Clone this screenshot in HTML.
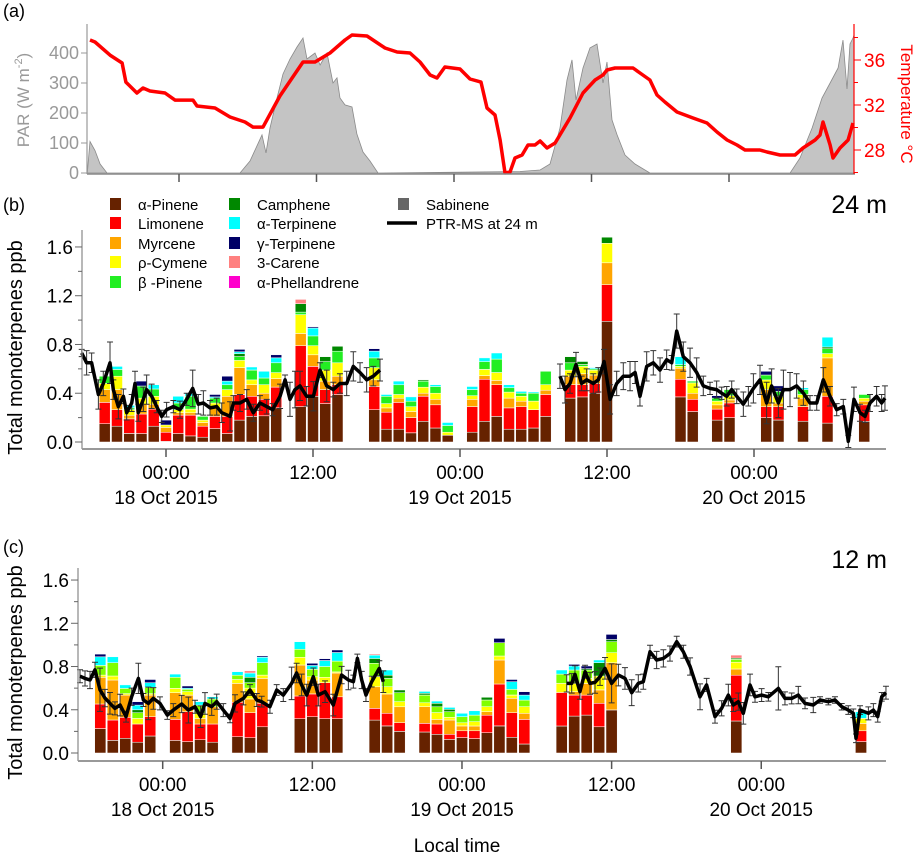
<!DOCTYPE html>
<html><head><meta charset="utf-8"><style>
html,body{margin:0;padding:0;background:#fff;}
svg{display:block;font-family:"Liberation Sans",Arial,sans-serif;}
</style></head><body>
<svg id="chart" width="917" height="855" viewBox="0 0 917 855">
<g id="gA"></g>
<g id="gB"></g>
<g id="gC"></g>
<g id="legend"></g>
<g id="labels"></g>
</svg>
<script>
// ---------- DATA ----------
const parHours=[-8,-7.77,-7.33,-6.89,-6.28,5.32,6.2,7.24,7.59,7.94,8.55,9.08,9.69,10.3,10.82,11.17,11.87,12.31,12.92,13.44,13.79,14.05,14.49,15.1,15.53,16.06,16.67,17.37,29.76,31.51,32.38,33.25,33.86,34.3,34.65,35.26,35.87,36.48,37.0,37.35,37.79,38.23,38.92,39.8,41.1,53.33,54.2,55.25,56.12,56.82,57.52,57.95,58.3,58.56,58.82,58.91];
const parValues=[0,105,75,30,0,0,40,127,67,150,250,330,380,420,450,380,400,360,400,300,317,250,227,220,130,70,40,0,5,10,30,150,310,377,243,350,417,430,300,370,177,127,60,30,0,0,50,150,250,300,350,443,280,430,450,460];
const tempHours=[-7.77,-7.33,-6.02,-4.97,-4.63,-3.67,-3.14,-2.53,-1.22,-0.35,1.22,1.57,3.14,4.45,5.76,6.46,7.33,8.81,10.82,11.87,13.18,14.49,15.1,16.41,17.98,19.03,20.16,21.03,21.91,22.52,23.21,24.52,25.4,26.36,26.88,27.58,28.02,28.45,28.89,29.32,29.94,30.46,31.07,31.51,32.12,32.82,34.12,35.26,36.31,37.0,37.35,38.05,39.1,39.62,40.23,41.1,41.72,42.41,43.46,44.86,46.08,46.95,47.83,48.7,49.4,50.7,51.32,52.45,53.33,53.76,54.46,55.51,55.94,56.2,56.82,57.08,57.69,58.39,58.82];
const tempValues=[37.78,37.6,36.44,35.73,34.04,33.07,33.51,33.24,33.07,32.44,32.44,31.91,31.73,30.93,30.49,30.04,30.04,32.8,35.82,35.82,36.62,37.78,38.22,38.13,37.07,36.71,36.62,35.82,34.67,34.4,35.38,35.2,34.31,34.04,31.73,31.11,28.89,25.96,26.04,27.29,27.56,28.44,28.44,28.8,28.18,28.62,30.84,33.07,34.22,34.67,35.11,35.29,35.29,35.29,34.84,34.22,32.89,32.27,31.38,30.84,30.4,29.6,28.89,28.44,28,28,27.82,27.56,27.56,27.56,28.18,28.89,29.33,30.49,28.44,27.29,28.18,28.89,30.4];

const species=["α-Pinene","Limonene","Myrcene","ρ-Cymene","β-Pinene","Camphene","α-Terpinene","γ-Terpinene","3-Carene"];
const bBarHours=[-5,-4,-3,-2,-1,0,1,2,3,4,5,6,7,8,9,11,12,13,14,17,18,19,20,21,22,23,25,26,27,28,29,30,31,33,34,35,36,42,43,45,46,49,50,52,54,57];
const bCumulative=[
[.15,.325,.43,.48,.54,.54,.54,.54,.54],[.13,.265,.43,.54,.595,.595,.62,.62,.62],[.07,.19,.22,.265,.28,.28,.30,.30,.30],[.07,.23,.31,.36,.46,.46,.46,.50,.50],[.13,.27,.31,.375,.435,.435,.47,.47,.47],[.005,.08,.12,.14,.14,.14,.14,.18,.18],[.07,.22,.24,.265,.32,.32,.375,.375,.375],[.05,.22,.24,.27,.375,.375,.40,.40,.40],[.04,.13,.16,.18,.21,.21,.21,.21,.21],[.11,.21,.28,.32,.36,.36,.37,.39,.39],[.07,.21,.375,.43,.47,.47,.50,.54,.54],[.18,.39,.61,.67,.70,.725,.74,.76,.76],[.21,.375,.47,.51,.59,.59,.615,.615,.615],[.215,.35,.40,.47,.525,.525,.58,.58,.58],[.28,.45,.52,.57,.65,.65,.69,.715,.715],[.29,.79,.89,1.045,1.065,1.135,1.135,1.135,1.17],[.375,.62,.715,.79,.87,.87,.935,.945,.945],[.315,.43,.50,.59,.66,.70,.70,.70,.70],[.39,.47,.54,.65,.745,.785,.785,.785,.785],[.265,.455,.51,.61,.69,.69,.745,.765,.765],[.105,.245,.28,.315,.375,.375,.39,.39,.39],[.105,.325,.36,.39,.47,.47,.50,.50,.50],[.075,.20,.25,.29,.335,.335,.37,.37,.37],[.17,.375,.40,.45,.50,.51,.51,.51,.51],[.115,.305,.35,.40,.455,.455,.47,.47,.47],[.055,.055,.055,.08,.135,.135,.16,.16,.16],[.08,.29,.35,.38,.43,.43,.455,.455,.455],[.17,.515,.545,.595,.66,.66,.69,.69,.69],[.21,.47,.505,.57,.68,.68,.73,.73,.73],[.105,.28,.36,.41,.445,.445,.47,.47,.47],[.105,.29,.335,.375,.40,.40,.415,.415,.415],[.115,.265,.265,.335,.40,.40,.41,.41,.41],[.21,.39,.425,.47,.58,.58,.58,.58,.58],[.36,.47,.54,.59,.65,.70,.70,.70,.70],[.37,.47,.56,.62,.635,.66,.66,.66,.66],[.40,.48,.55,.59,.60,.60,.61,.61,.61],[.99,1.29,1.47,1.63,1.63,1.68,1.68,1.68,1.68],[.37,.515,.605,.62,.635,.635,.70,.70,.70],[.25,.35,.40,.485,.50,.50,.50,.50,.50],[.18,.27,.305,.335,.36,.36,.36,.38,.38],[.20,.32,.345,.38,.43,.43,.43,.43,.43],[.20,.29,.43,.51,.55,.55,.55,.58,.58],[.18,.29,.32,.375,.415,.415,.415,.46,.46],[.17,.29,.36,.39,.43,.43,.445,.445,.445],[.155,.375,.69,.725,.765,.78,.86,.86,.86],[.17,.305,.335,.36,.39,.39,.39,.39,.39]];
const bLineHours=[-6.88,-6.48,-6.07,-5.52,-5.12,-4.57,-4.30,-3.89,-3.48,-3.21,-2.8,-2.53,-2.26,-1.85,-1.58,-1.17,-0.76,-0.35,0.05,0.6,1.14,1.69,2.18,2.64,3.05,3.59,4.14,4.55,5.23,5.5,6.04,6.59,7.13,7.67,8.22,8.71,9.31,9.72,10.12,10.53,10.94,11.48,12.03,12.57,13.12,13.66,14.2,14.75,15.29,15.84,16.38,16.92,17.47,null,32.16,32.57,32.98,33.47,33.93,34.34,34.88,35.29,35.76,36.25,36.79,37.33,37.88,38.29,38.69,39.24,39.78,40.33,40.87,41.28,41.69,42.23,42.78,43.32,43.86,44.41,44.95,45.36,45.77,46.18,46.59,47.13,47.54,47.95,48.49,49.03,49.44,49.99,50.4,50.94,51.48,52.03,52.57,53.12,53.66,54.2,54.75,55.29,55.7,56.16,56.65,57.06,57.47,58.01,58.42,58.69];
const bLineValues=[.73,.65,.65,.39,.48,.65,.43,.29,.375,.24,.32,.48,.24,.35,.43,.375,.29,.21,.265,.29,.265,.35,.44,.31,.32,.28,.29,.24,.21,.32,.32,.35,.24,.32,.29,.265,.375,.51,.35,.43,.46,.375,.375,.59,.46,.43,.48,.48,.62,.57,.51,.54,.59,null,.54,.43,.48,.635,.48,.51,.48,.51,.66,.35,.48,.54,.54,.57,.375,.62,.65,.59,.675,.65,.91,.70,.65,.57,.46,.44,.43,.40,.375,.43,.375,.31,.375,.44,.51,.32,.46,.32,.43,.43,.46,.40,.32,.32,.51,.375,.265,.29,.005,.35,.24,.21,.32,.375,.32,.36];
const bLineErrors=[.03,.1,.08,.12,.1,.17,.08,.1,.06,.06,.07,.1,.07,.1,.12,.1,.05,.05,.06,.05,.07,.05,.15,.08,.1,.06,.07,.08,.12,.06,.07,.08,.07,.06,.06,.05,.1,.04,.14,.15,.12,.08,.12,.06,.13,.06,.08,.1,.12,.08,.1,.08,.09,null,.1,.11,.08,.1,.06,.09,.08,.1,.1,.12,.1,.11,.12,.09,.08,.12,.1,.1,.08,.06,.14,.12,.12,.12,.08,.05,.07,.05,.08,.07,.06,.1,.08,.12,.12,.17,.14,.12,.16,.14,.1,.1,.06,.06,.1,.08,.05,.06,.05,.1,.07,.05,.07,.08,.07,.1];

const cBarHours=[-5,-4,-3,-2,-1,1,2,3,4,6,7,8,11,12,13,14,17,18,19,21,22,23,24,25,26,27,28,29,32,33,34,35,36,46,56];
const cCumulative=[
[.225,.453,.70,.72,.81,.81,.89,.915,.915],[.117,.305,.675,.712,.835,.835,.89,.89,.89],[.136,.33,.536,.55,.598,.598,.63,.63,.63],[.10,.268,.268,.32,.373,.40,.444,.475,.475],[.157,.336,.536,.55,.607,.607,.65,.68,.68],[.117,.311,.558,.598,.70,.70,.73,.73,.73],[.105,.382,.536,.567,.589,.589,.60,.62,.62],[.123,.268,.32,.367,.444,.444,.475,.475,.475],[.10,.268,.428,.428,.50,.50,.52,.52,.52],[.151,.469,.644,.68,.72,.72,.752,.752,.752],[.142,.373,.50,.60,.65,.70,.74,.74,.76],[.243,.46,.69,.72,.835,.835,.885,.897,.897],[.317,.527,.814,.885,.96,.96,1.03,1.03,1.03],[.336,.546,.675,.706,.774,.774,.81,.83,.83],[.317,.65,.65,.70,.80,.80,.855,.872,.872],[.317,.52,.74,.75,.85,.85,.93,.953,.953],[.305,.413,.613,.706,.83,.875,.906,.906,.916],[.25,.367,.546,.613,.69,.72,.768,.768,.768],[.20,.28,.428,.475,.558,.583,.583,.583,.583],[.194,.274,.428,.465,.536,.552,.57,.57,.57],[.173,.268,.311,.373,.428,.46,.48,.48,.48],[.126,.173,.305,.33,.382,.404,.422,.422,.422],[.142,.206,.25,.28,.336,.336,.367,.367,.367],[.133,.206,.25,.29,.35,.35,.39,.39,.39],[.188,.35,.382,.428,.49,.515,.515,.515,.515],[.25,.638,.86,.897,1.02,1.02,1.02,1.06,1.06],[.145,.373,.506,.536,.589,.589,.66,.68,.68],[.083,.311,.367,.428,.49,.49,.536,.567,.567],[.25,.56,.56,.644,.73,.73,.768,.768,.768],[.342,.536,.567,.644,.768,.768,.805,.82,.82],[.351,.536,.644,.69,.768,.78,.78,.805,.805],[.243,.46,.583,.712,.712,.835,.86,.86,.86],[.398,.398,.835,.928,1.03,1.05,1.05,1.097,1.097],[.296,.72,.777,.84,.866,.878,.878,.878,.906],[.105,.206,.274,.32,.32,.32,.382,.382,.382]];
const cLineHours=[-6.63,-6.23,-5.83,-5.43,-5.03,-4.63,-4.23,-3.83,-3.42,-2.94,-2.49,-1.95,-1.55,-1.15,-0.75,-0.22,0.37,0.85,1.52,2.06,2.59,3.04,3.39,3.93,4.33,4.86,5.4,5.8,6.47,7.0,7.54,7.94,8.6,9.14,9.67,10.34,10.74,11.14,11.55,12.08,12.48,13.02,13.68,14.35,14.89,15.29,15.61,15.96,16.3,16.76,17.37,17.69,null,32.4,32.8,33.06,33.46,33.87,34.27,34.67,35.07,35.47,36.0,36.54,37.07,37.61,38.14,38.54,39.08,39.61,40.15,40.68,41.22,41.75,42.29,43.09,43.62,44.29,44.82,45.36,45.76,46.16,46.56,47.1,47.5,48.03,48.57,49.37,49.9,50.44,50.97,51.51,52.17,52.71,53.38,53.91,54.45,54.98,55.38,55.6,55.92,56.59,56.99,57.34,57.66,58.0];
const cLineValues=[.71,.69,.675,.77,.585,.508,.46,.413,.444,.336,.52,.69,.49,.459,.505,.459,.351,.397,.453,.397,.428,.336,.459,.428,.475,.397,.32,.459,.505,.583,.49,.475,.428,.583,.536,.644,.74,.63,.536,.706,.536,.567,.444,.721,.675,.66,.875,.675,.536,.66,.783,.66,null,.644,.644,.727,.567,.752,.644,.653,.706,.783,.644,.721,.69,.558,.644,.66,.937,.86,.875,.92,1.03,.937,.80,.52,.63,.336,.413,.536,.444,.475,.367,.63,.52,.536,.52,.598,.505,.505,.536,.459,.444,.49,.475,.49,.428,.397,.367,.136,.397,.367,.397,.336,.52,.558];
const cLineErrors=[.06,.07,.08,.07,.2,.08,.1,.06,.1,.05,.08,.14,.06,.15,.1,.06,.04,.06,.08,.12,.06,.1,.1,.08,.07,.06,.04,.08,.06,.05,.06,.05,.06,.05,.06,.15,.09,.1,.1,.08,.1,.1,.1,.08,.09,.06,.04,.08,.06,.05,.07,.1,null,.08,.09,.08,.07,.06,.1,.1,.08,.1,.18,.1,.1,.12,.08,.07,.06,.08,.08,.07,.05,.06,.08,.12,.06,.06,.07,.1,.06,.08,.1,.1,.05,.06,.04,.2,.06,.05,.08,.05,.07,.03,.03,.03,.03,.04,.04,.04,.04,.06,.06,.05,.04,.06];

const panelATicks=[0,100,200,300,400];
const tempTicks=[28,32,36];
const concTicks=[0,0.4,0.8,1.2,1.6];
const timeTickHours=[0,12,24,36,48];
const timeTickLabels=["00:00","12:00","00:00","12:00","00:00"];
const dateLabels=["18 Oct 2015","","19 Oct 2015","","20 Oct 2015"];

// ---------- STYLE / AXES ----------
const NS="http://www.w3.org/2000/svg";
const bColors=["#662200","#ff0000","#ffa500","#ffff00","#22ee22","#008800","#00ffff","#000066","#ff8080"];
const cColors=["#662200","#ff0000","#ffa500","#ffff00","#80ff00","#008800","#00ffff","#000066","#ff8080"];
function el(parent,tag,attrs,text){const e=document.createElementNS(NS,tag);for(const k in attrs)e.setAttribute(k,attrs[k]);if(text!==undefined)e.textContent=text;parent.appendChild(e);return e;}
const xa=h=>179+h*(137.5/12), yPar=p=>173-p*0.3, yT=t=>150-(t-28)*11.25;
const xb=h=>166+h*12.25, yb=v=>442-v*121.9;
const xc=h=>162.7+h*12.47, yc=v=>753-v*108.1;

// ---------- PANEL A ----------
const gA=document.getElementById('gA');
let d="M"+xa(parHours[0])+","+yPar(0);
parHours.forEach((h,i)=>{d+=" L"+xa(h).toFixed(1)+","+yPar(parValues[i]).toFixed(1);});
d+=" L"+xa(parHours[parHours.length-1])+","+yPar(0)+"Z";
let pa=el(gA,'path',{d:d,fill:"#c4c4c4",stroke:"#8a8a8a","stroke-width":0.8});


let td=""; tempHours.forEach((h,i)=>{td+=(i?" L":"M")+xa(h).toFixed(1)+","+yT(tempValues[i]).toFixed(1);});
let tl=el(gA,'path',{d:td,fill:"none",stroke:"#ff0000","stroke-width":3.5,"stroke-linejoin":"round"});


el(gA,'line',{x1:87,y1:24,x2:87,y2:174,stroke:"#999","stroke-width":1.2});
el(gA,'line',{x1:87,y1:174,x2:855,y2:174,stroke:"#888","stroke-width":1.5});
el(gA,'line',{x1:854,y1:24,x2:854,y2:174,stroke:"#ff0000","stroke-width":1.2});
panelATicks.forEach(p=>{el(gA,'line',{x1:81,y1:yPar(p),x2:87,y2:yPar(p),stroke:"#999"});
 let t=el(gA,'text',{x:79,y:yPar(p)+6,"text-anchor":"end","font-size":18,fill:"#999"},String(p));
 
 });
for(let T=26;T<=38;T+=2){el(gA,'line',{x1:854,y1:yT(T),x2:T%4===0?861:858,y2:yT(T),stroke:"#ff0000"});}
tempTicks.forEach(T=>{let t=el(gA,'text',{x:864,y:yT(T)+7,"font-size":19,fill:"#ff0000"},String(T));
 
 });
timeTickHours.forEach(h=>el(gA,'line',{x1:xa(h),y1:174,x2:xa(h),y2:182,stroke:"#555","stroke-width":1.5}));
let parT=el(gA,'text',{transform:"translate(29,100) rotate(-90)","text-anchor":"middle","font-size":17,fill:"#999"});


parT.innerHTML='PAR (W m<tspan dy="-7" font-size="11">-2</tspan><tspan dy="7">)</tspan>';
let tT=el(gA,'text',{transform:"translate(901,104) rotate(90)","text-anchor":"middle","font-size":17,fill:"#ff0000"},"Temperature °C");



// ---------- BAR PANELS ----------
function panel(g,xf,yf,barHours,cum,colors,lh,lv,le,axisY,axisX0,axisTop,name,lw){
 barHours.forEach((h,i)=>{const c=cum[i];let prev=0;
  c.forEach((top,k)=>{if(top-prev>0.0005){let r=el(g,'rect',{x:(xf(h-0.45)).toFixed(1),y:yf(top).toFixed(1),width:(xf(h+0.45)-xf(h-0.45)).toFixed(1),height:(yf(prev)-yf(top)).toFixed(1),fill:colors[k],stroke:"#fff","stroke-width":0.5});
   
   }
   prev=Math.max(prev,top);});});
 lh.forEach((h,i)=>{if(h===null||!le[i])return;const x=xf(h),v=lv[i],e=le[i];
  el(g,'path',{d:`M${x},${yf(v-e)}V${yf(v+e)}M${x-3},${yf(v-e)}h6M${x-3},${yf(v+e)}h6`,stroke:"#333","stroke-width":1,fill:"none"});});
 let dd="",pen=false;lh.forEach((h,i)=>{if(h===null){pen=false;return;}dd+=(pen?" L":" M")+xf(h).toFixed(1)+","+yf(lv[i]).toFixed(1);pen=true;});
 let pl=el(g,'path',{d:dd,fill:"none",stroke:"#000","stroke-width":lw,"stroke-linejoin":"round"});
 
 
 el(g,'line',{x1:axisX0,y1:axisTop,x2:axisX0,y2:axisY,stroke:"#888","stroke-width":1.2});
 el(g,'line',{x1:axisX0,y1:axisY,x2:886,y2:axisY,stroke:"#999","stroke-width":2});
 for(let v=0;v<=1.61;v+=0.2){const major=Math.round(v*10)%4===0;el(g,'line',{x1:axisX0-(major?7:4),y1:yf(v),x2:axisX0,y2:yf(v),stroke:"#666"});}
 concTicks.forEach(v=>{let t=el(g,'text',{x:axisX0-9,y:yf(v)+7,"text-anchor":"end","font-size":19,fill:"#000"},v.toFixed(1));
  
  });
 timeTickHours.forEach((h,i)=>{const x=xf(h);el(g,'line',{x1:x,y1:axisY,x2:x,y2:axisY+8,stroke:"#555","stroke-width":1.5});
  let t=el(g,'text',{x:x,y:axisY+30,"text-anchor":"middle","font-size":19},timeTickLabels[i]);
  
  
  if(dateLabels[i]){let t2=el(g,'text',{x:x,y:axisY+55,"text-anchor":"middle","font-size":19},dateLabels[i]);
  
  }});
 let yt=el(g,'text',{transform:`translate(22,${(axisY+axisTop)/2+8}) rotate(-90)`,"text-anchor":"middle","font-size":20},"Total monoterpenes ppb");
 
 
}
panel(document.getElementById('gB'),xb,yb,bBarHours,bCumulative,bColors,bLineHours,bLineValues,bLineErrors,449,82,230,'panel-b',3.5);
panel(document.getElementById('gC'),xc,yc,cBarHours,cCumulative,cColors,cLineHours,cLineValues,cLineErrors,761,78,568,'panel-c',3.5);

// ---------- LEGEND ----------
const lg=document.getElementById('legend');
const legendItems=[[110,204,0,"α-Pinene"],[110,223,1,"Limonene"],[110,243,2,"Myrcene"],[110,262,3,"ρ-Cymene"],[110,282,4,"β -Pinene"],
[229,204,5,"Camphene"],[229,223,6,"α-Terpinene"],[229,243,7,"γ-Terpinene"],[229,262,8," 3-Carene"],[229,282,-1,"α-Phellandrene"],[398,204,-2,"Sabinene"]];
legendItems.forEach(it=>{const col=it[2]>=0?bColors[it[2]]:(it[2]===-1?"#ff00cc":"#666");
 let r=el(lg,'rect',{x:it[0],y:it[1]-6,width:11,height:12,fill:col});
 
 
 let t=el(lg,'text',{x:it[0]+28,y:it[1]+6,"font-size":15},it[3]);
 
 });
el(lg,'line',{x1:387,y1:223,x2:417,y2:223,stroke:"#000","stroke-width":3.5});
let lt=el(lg,'text',{x:426,y:229,"font-size":15},"PTR-MS at 24 m");



// ---------- LABELS ----------
const lb=document.getElementById('labels');
[["(a)",3,17],["(b)",3,211],["(c)",3,553]].forEach(a=>{let t=el(lb,'text',{x:a[1],y:a[2],"font-size":18},a[0]);
 
 });
let h24=el(lb,'text',{x:887,y:213,"text-anchor":"end","font-size":25},"24 m");


let h12=el(lb,'text',{x:887,y:568,"text-anchor":"end","font-size":25},"12 m");


let xl=el(lb,'text',{x:457,y:852,"text-anchor":"middle","font-size":19},"Local time");


</script>
</body></html>
